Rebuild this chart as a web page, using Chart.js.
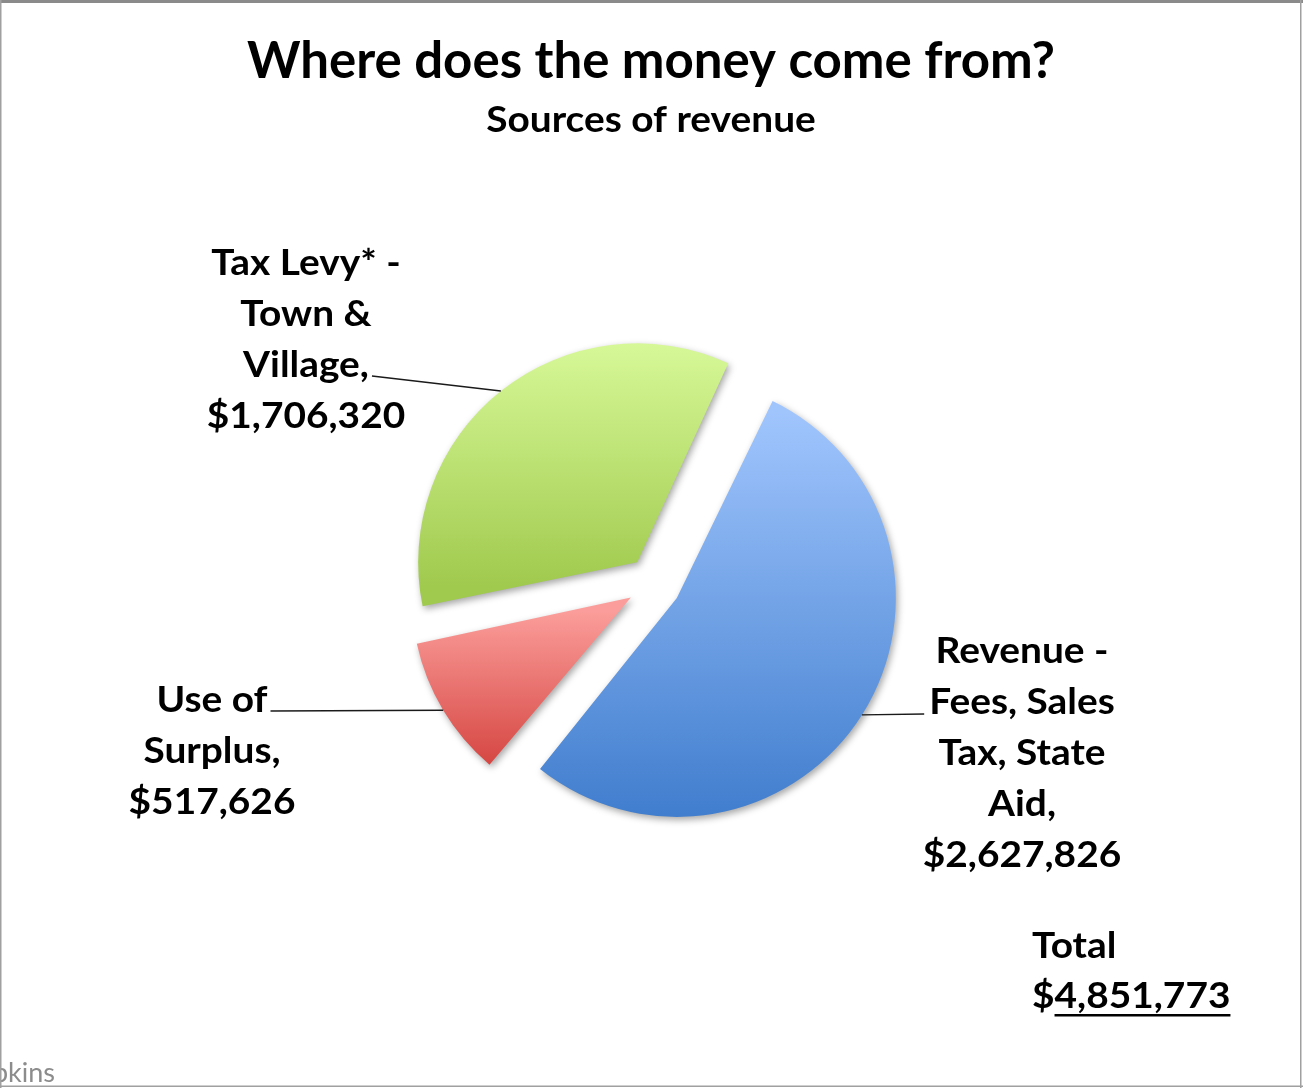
<!DOCTYPE html>
<html>
<head>
<meta charset="utf-8">
<title>Where does the money come from?</title>
<script src="https://cdn.jsdelivr.net/npm/chart.js@4.4.1/dist/chart.umd.min.js"></script>
<style>
  html, body { margin: 0; padding: 0; background: #ffffff; }
  #wrap { position: relative; width: 1303px; height: 1088px; }
  canvas { display: block; }
</style>
</head>
<body>
<div id="wrap"><canvas id="chart" width="1303" height="1088"></canvas></div>
<script>
// Revenue sources, in the clockwise order the slices are drawn
const categories = ['Revenue - Fees, Sales Tax, State Aid', 'Use of Surplus', 'Tax Levy* - Town & Village'];
const amounts = [2627826, 517626, 1706320];
// Label text shown beside each slice (the amount line is appended)
const labelLines = [
  ['Revenue -', 'Fees, Sales', 'Tax, State', 'Aid,'],
  ['Use of', 'Surplus,'],
  ['Tax Levy* -', 'Town &', 'Village,']
];
const titleText = 'Where does the money come from?';
const subtitleText = 'Sources of revenue';
const totalCaption = 'Total';
const totalLabel = '$4,851,773';
const footerFragment = 'pkins';

// Gradient colours per slice: [top, bottom]
const sliceGradients = [
  ['#a0c5fd', '#3d7bcc'],
  ['#fb9d9a', '#d23e3a'],
  ['#dcfc9e', '#a0ca4e']
];

const FONT = 'Lato, "Open Sans", "DejaVu Sans", sans-serif';
const fmt = v => '$' + v.toLocaleString('en-US');

// Label layout: centre x, first baseline, which line the leader attaches to and on which side
const labelLayout = [
  { cx: 1022, top: 663, leaderLine: 1, side: 'left' },
  { cx: 212, top: 712, leaderLine: 0, side: 'right' },
  { cx: 306, top: 275, leaderLine: 2, side: 'right' }
];
const LINE_H = 51;
const LABEL_SIZE = 37;
const LABEL_STRETCH = 1.05;

function arcGeometry(arc) {
  const off = (arc.options.offset || 0) / 4;
  const mid = (arc.startAngle + arc.endAngle) / 2;
  const fix = 1 - Math.sin(Math.min(Math.PI, arc.circumference));
  return {
    cx: arc.x + Math.cos(mid) * off,
    cy: arc.y + Math.sin(mid) * off,
    r: arc.outerRadius + off * fix,
    mid
  };
}

function stretchedText(ctx, text, x, y, stretch, align) {
  ctx.save();
  ctx.translate(x, y);
  ctx.scale(stretch, 1);
  ctx.textAlign = align;
  ctx.fillText(text, 0, 0);
  ctx.restore();
  return ctx.measureText(text).width * stretch;
}

const pieDecor = {
  id: 'pieDecor',
  afterDatasetUpdate(chart, args) {
    const meta = args.meta;
    const R = meta.controller.outerRadius;
    const ctx = chart.ctx;
    meta.data.forEach((arc, i) => {
      // keep every exploded slice at the same radius
      const off = (arc.options.offset || 0) / 4;
      const fix = 1 - Math.sin(Math.min(Math.PI, arc.circumference));
      arc.outerRadius = R - off * fix;
      const g = arcGeometry(arc);
      let minY = g.cy, maxY = g.cy;
      for (let k = 0; k <= 60; k++) {
        const a = arc.startAngle + (arc.endAngle - arc.startAngle) * k / 60;
        const y = g.cy + Math.sin(a) * g.r;
        minY = Math.min(minY, y);
        maxY = Math.max(maxY, y);
      }
      const grad = ctx.createLinearGradient(0, minY, 0, maxY);
      grad.addColorStop(0, sliceGradients[i][0]);
      grad.addColorStop(1, sliceGradients[i][1]);
      arc.options.backgroundColor = grad;
    });
  },
  beforeDatasetsDraw(chart) {
    const ctx = chart.ctx;
    ctx.save();
    ctx.shadowColor = 'rgba(0,0,0,0.35)';
    ctx.shadowBlur = 7;
    ctx.shadowOffsetX = 2;
    ctx.shadowOffsetY = 3;
  },
  afterDatasetsDraw(chart) {
    const ctx = chart.ctx;
    ctx.restore();
    const meta = chart.getDatasetMeta(0);

    // slice labels with leader lines
    ctx.save();
    ctx.fillStyle = '#000000';
    ctx.font = 'bold ' + LABEL_SIZE + 'px ' + FONT;
    ctx.textBaseline = 'alphabetic';
    meta.data.forEach((arc, i) => {
      const lay = labelLayout[i];
      const lines = labelLines[i].concat([fmt(amounts[i])]);
      let anchor = null;
      lines.forEach((t, j) => {
        const y = lay.top + j * LINE_H;
        const w = stretchedText(ctx, t, lay.cx, y, LABEL_STRETCH, 'center');
        if (j === lay.leaderLine) {
          anchor = lay.side === 'right'
            ? { x: lay.cx + w / 2 + 3, y: y - 1 }
            : { x: lay.cx - w / 2 - 5, y: y };
        }
      });
      const g = arcGeometry(arc);
      const px = g.cx + Math.cos(g.mid) * g.r;
      const py = g.cy + Math.sin(g.mid) * g.r;
      ctx.beginPath();
      ctx.strokeStyle = '#1a1a1a';
      ctx.lineWidth = 1.3;
      ctx.moveTo(anchor.x, anchor.y);
      ctx.lineTo(px, py);
      ctx.stroke();
    });
    ctx.restore();
  },
  afterDraw(chart) {
    const ctx = chart.ctx;
    ctx.save();
    ctx.fillStyle = '#000000';
    ctx.textBaseline = 'alphabetic';
    ctx.font = 'bold 51px ' + FONT;
    stretchedText(ctx, titleText, 651, 78, 1.0, 'center');
    ctx.font = 'bold ' + LABEL_SIZE + 'px ' + FONT;
    stretchedText(ctx, subtitleText, 651, 132, LABEL_STRETCH, 'center');

    // total
    stretchedText(ctx, totalCaption, 1032, 958, LABEL_STRETCH, 'left');
    const wAll = stretchedText(ctx, totalLabel, 1032, 1008, LABEL_STRETCH, 'left');
    const wDollar = ctx.measureText('$').width * LABEL_STRETCH;
    ctx.fillRect(1032 + wDollar, 1014, wAll - wDollar, 2.5);

    // footer fragment, cut by the frame edge
    ctx.fillStyle = '#8c8c8c';
    ctx.font = '27px ' + FONT;
    ctx.textAlign = 'right';
    ctx.fillText(footerFragment, 55, 1082);

    // frame
    ctx.fillStyle = '#8a8a8a';
    ctx.fillRect(0, 0, 1303, 3);
    ctx.fillStyle = '#a0a0a0';
    ctx.fillRect(0, 0, 1.5, 1088);
    ctx.fillRect(1300, 0, 1.5, 1088);
    ctx.fillRect(0, 1085.5, 1303, 1.5);
    ctx.restore();
  }
};

new Chart(document.getElementById('chart'), {
  type: 'pie',
  data: {
    labels: categories,
    datasets: [{
      data: amounts,
      backgroundColor: sliceGradients.map(c => c[1]),
      borderWidth: 0,
      offset: [108, 108, 108],
      radius: 219
    }]
  },
  options: {
    responsive: false,
    animation: false,
    events: [],
    rotation: 24.8,
    layout: { padding: { left: 300, right: 295, top: 300, bottom: 221 } },
    plugins: {
      legend: { display: false },
      tooltip: { enabled: false },
      title: { display: false }
    }
  },
  plugins: [pieDecor]
});
</script>
</body>
</html>
